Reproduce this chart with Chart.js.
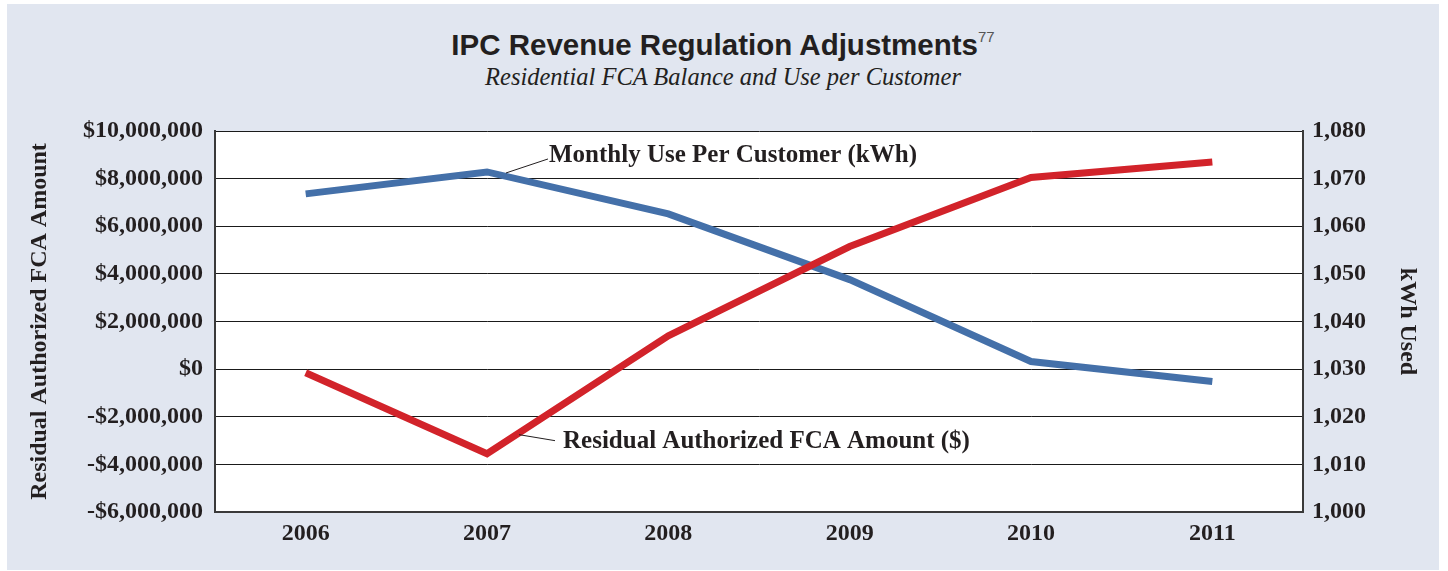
<!DOCTYPE html>
<html>
<head>
<meta charset="utf-8">
<script src="https://cdn.jsdelivr.net/npm/chart.js@4"></script>
<style>
  html, body { margin: 0; padding: 0; background: #fff; }
  #wrap { position: relative; width: 1448px; height: 571px; overflow: hidden; }
  #panel { position: absolute; left: 7px; top: 4px; width: 1432px; height: 566px; background: #e1e6f0; }
  #title { position: absolute; left: 7px; width: 1432px; top: 27px; text-align: center;
    font-family: "Liberation Sans", sans-serif; font-weight: bold; font-size: 29.5px; color: #231f20; line-height: 36px; }
  #title sup { font-weight: normal; font-size: 15px; vertical-align: 13px; line-height: 0; color: #555; }
  #subtitle { position: absolute; left: 7px; width: 1432px; top: 63px; text-align: center;
    font-family: "Liberation Serif", serif; font-style: italic; font-size: 24.5px; color: #231f20; }
  canvas { position: absolute; left: 0; top: 0; }
</style>
</head>
<body>
<div id="wrap">
  <div id="panel"></div>
  <div id="title">IPC Revenue Regulation Adjustments<sup>77</sup></div>
  <div id="subtitle">Residential FCA Balance and Use per Customer</div>
  <canvas id="chart" width="1448" height="571"></canvas>
</div>
<script>
// donnees
var years = ['2006', '2007', '2008', '2009', '2010', '2011'];
var fcaAmount = [-150000, -3550000, 1400000, 5150000, 8050000, 8700000];
var monthlyUse = [1066.8, 1071.4, 1062.6, 1048.8, 1031.6, 1027.4];

var fcaLabel = 'Residual Authorized FCA Amount ($)';
var useLabel = 'Monthly Use Per Customer (kWh)';

var tickFont = { family: 'Liberation Serif', weight: 'bold', size: 24 };
var inkColor = '#231f20';

function money(v) {
  var s = '$' + Math.abs(v).toLocaleString('en-US');
  return v < 0 ? '-' + s : s;
}

// fond blanc de la zone de trace
var plotBackground = {
  id: 'plotBackground',
  beforeDraw: function(chart) {
    var a = chart.chartArea, ctx = chart.ctx;
    ctx.save();
    ctx.fillStyle = '#fff';
    ctx.fillRect(a.left, a.top, a.right - a.left, a.bottom - a.top);
    ctx.restore();
  }
};

// etiquettes des series avec leur trait de rappel
var seriesLabels = {
  id: 'seriesLabels',
  afterDatasetsDraw: function(chart) {
    var ctx = chart.ctx;
    var red = chart.getDatasetMeta(0).data[1];
    var blue = chart.getDatasetMeta(1).data[1];
    ctx.save();
    ctx.strokeStyle = '#231f20';
    ctx.lineWidth = 1;
    ctx.beginPath();
    ctx.moveTo(blue.x + 19, blue.y + 1);
    ctx.lineTo(blue.x + 61, blue.y - 13);
    ctx.moveTo(red.x + 32, red.y - 19);
    ctx.lineTo(red.x + 68, red.y - 13);
    ctx.stroke();
    ctx.font = 'bold 25px "Liberation Serif"';
    ctx.fillStyle = inkColor;
    ctx.textBaseline = 'middle';
    ctx.textAlign = 'left';
    ctx.fillText(useLabel, blue.x + 62, blue.y - 16);
    ctx.fillText(fcaLabel, red.x + 76, red.y - 12);
    ctx.restore();
  }
};

var ctx = document.getElementById('chart').getContext('2d');
var myChart = new Chart(ctx, {
  type: 'line',
  data: {
    labels: years,
    datasets: [{
      label: fcaLabel,
      data: fcaAmount,
      yAxisID: 'y',
      borderColor: '#d2232a',
      borderWidth: 7,
      pointRadius: 0,
      tension: 0
    }, {
      label: useLabel,
      data: monthlyUse,
      yAxisID: 'y1',
      borderColor: '#4470a9',
      borderWidth: 7,
      pointRadius: 0,
      tension: 0
    }]
  },
  options: {
    responsive: false,
    animation: false,
    layout: { padding: { top: 131, left: 0, right: 0, bottom: 0 } },
    plugins: {
      legend: { display: false },
      tooltip: { enabled: false }
    },
    scales: {
      x: {
        offset: true,
        grid: { display: false, drawTicks: false },
        border: { display: true, color: '#3a3a3a', width: 2 },
        ticks: { font: tickFont, color: inkColor, padding: 7 },
        afterFit: function(s) { s.height = 59; }
      },
      y: {
        position: 'left',
        min: -6000000,
        max: 10000000,
        ticks: { stepSize: 2000000, font: tickFont, color: inkColor, padding: 12, callback: money },
        grid: { color: '#1a1a1a', lineWidth: 1, drawTicks: false },
        border: { display: true, color: '#3a3a3a', width: 2 },
        title: {
          display: true,
          text: 'Residual Authorized FCA Amount',
          font: { family: 'Liberation Serif', weight: 'bold', size: 24 },
          color: inkColor,
          padding: { top: 25, bottom: 0 }
        },
        afterFit: function(s) { s.width = 215; }
      },
      y1: {
        position: 'right',
        min: 1000,
        max: 1080,
        ticks: { stepSize: 10, font: tickFont, color: inkColor, padding: 9,
          callback: function(v) { return v.toLocaleString('en-US'); } },
        grid: { display: false, drawTicks: false },
        border: { display: true, color: '#3a3a3a', width: 2 },
        title: {
          display: true,
          text: 'kWh Used',
          font: { family: 'Liberation Serif', weight: 'bold', size: 24 },
          color: inkColor,
          padding: { top: 26, bottom: 0 }
        },
        afterFit: function(s) { s.width = 145; }
      }
    }
  },
  plugins: [plotBackground, seriesLabels]
});
</script>
</body>
</html>
